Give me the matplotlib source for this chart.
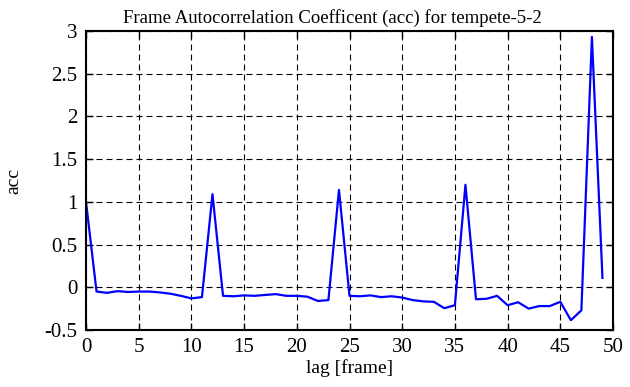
import matplotlib
matplotlib.use("Agg")
import matplotlib.pyplot as plt

lag = list(range(50))
acc = [1.0, -0.05, -0.065, -0.045, -0.055, -0.05, -0.05, -0.06, -0.075, -0.1,
       -0.13, -0.115, 1.09, -0.1, -0.105, -0.095, -0.1, -0.09, -0.08, -0.1,
       -0.1, -0.11, -0.16, -0.15, 1.14, -0.1, -0.105, -0.095, -0.115, -0.105,
       -0.12, -0.15, -0.165, -0.17, -0.245, -0.21, 1.2, -0.14, -0.135, -0.1,
       -0.21, -0.175, -0.25, -0.22, -0.22, -0.17, -0.385, -0.27, 2.93, 0.11]
xticks = [0, 5, 10, 15, 20, 25, 30, 35, 40, 45, 50]
yticks = [-0.5, 0, 0.5, 1, 1.5, 2, 2.5, 3]
ytick_labels = ["-0.5", "0", "0.5", "1", "1.5", "2", "2.5", "3"]

plt.rcParams['font.family'] = ['Liberation Serif', 'DejaVu Serif']

fig = plt.figure(figsize=(6.3, 3.87), dpi=100)
ax = fig.add_axes([86/630, 1-330/387, (613-86)/630, (330-31)/387])
ax.plot(lag, acc, color='#0000ff', linewidth=1.6)
ax.set_xlim(0, 50)
ax.set_ylim(-0.5, 3)
ax.set_xticks(xticks)
ax.set_yticks(yticks)
ax.set_yticklabels(ytick_labels)
ax.grid(True, color='black', linestyle=(0, (5.4, 3.6)), linewidth=0.8)
ax.tick_params(direction='in', length=5, width=1, top=True, right=True, labelsize=15, pad=6)
for s in ax.spines.values():
    s.set_linewidth(1.5)
ax.set_title("Frame Autocorrelation Coefficent (acc) for tempete-5-2", fontsize=13.5, pad=6,
             x=(332-86)/527)
ax.set_xlabel("lag [frame]", fontsize=14, labelpad=1)
ax.set_ylabel("acc", fontsize=14, labelpad=16)
fig.savefig("out.png", dpi=100)
